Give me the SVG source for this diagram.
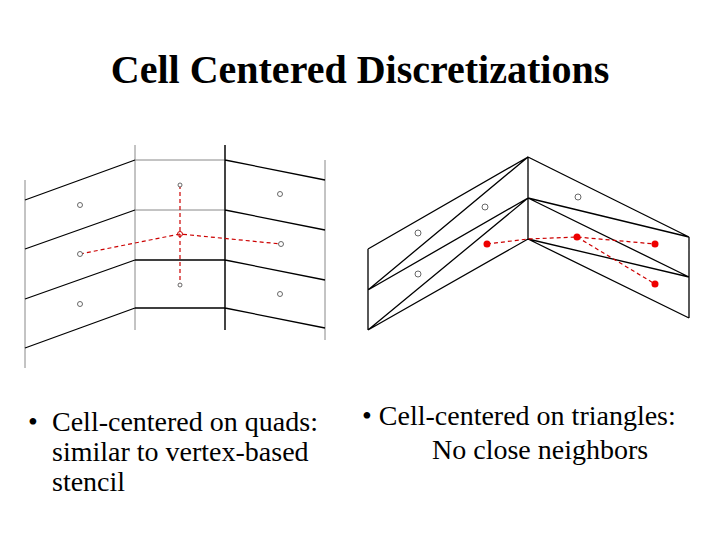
<svg xmlns="http://www.w3.org/2000/svg" width="720" height="540" viewBox="0 0 720 540">
<style>
.k{stroke:#000;stroke-width:1.3;fill:none}
.g{stroke:#888;stroke-width:1;fill:none}
.o{fill:#fff;stroke:#444;stroke-width:0.8}
.r{stroke:#c00;stroke-width:1.2;stroke-dasharray:4 3;fill:none}
.rd{fill:#e00}
text{font-family:'Liberation Serif','Times New Roman',serif;fill:#000}
</style>
<rect width="720" height="540" fill="#fff"/>
<text x="360" y="83" font-size="40" font-weight="bold" text-anchor="middle">Cell Centered Discretizations</text>
<g id="quad-mesh">
<path class="g" d="M25,180V368M135,145V330M225,145V330M325,160V340M135,160H225M135,210H225"/>
<path class="k" d="M25,200L135,160M25,249L135,210M25,299L135,260M25,348L135,308M135,260H225M135,308H225M225,160L325,180M225,210L325,230M225,260L325,280M225,308L325,328M225,145V330"/>
</g>
<g id="quad-stencil">
<path class="r" d="M80,254L180,234L281,244M180,185V285"/>
<circle class="o" cx="80" cy="205" r="2.5"/><circle class="o" cx="80" cy="254" r="2.5"/><circle class="o" cx="80" cy="304" r="2.5"/>
<circle class="o" cx="280" cy="194" r="2.5"/><circle class="o" cx="281" cy="244" r="2.5"/><circle class="o" cx="280" cy="294" r="2.5"/>
<circle class="o" cx="180" cy="185" r="2"/><circle class="o" cx="180" cy="285" r="2"/>
<circle fill="none" stroke="#c00" cx="180" cy="234" r="2.5"/>
</g>
<g id="tri-mesh">
<path class="k" d="M368,249V330M528,157V239M689,237V318M368,249L528,157M368,290L528,198M368,330L528,239M368,290L528,157M368,330L528,198M528,157L689,237M528,198L689,277M528,239L689,318M528,198L689,237M528,239L689,277"/>
</g>
<g id="tri-stencil">
<path class="r" stroke-width="0.8" d="M487,244L528,239L577,237L655,244M577,237L655,284"/>
<circle class="o" cx="418" cy="233" r="3"/><circle class="o" cx="485" cy="207" r="3"/><circle class="o" cx="418" cy="274" r="3"/><circle class="o" cx="578" cy="197" r="3"/>
<circle class="rd" cx="487" cy="244" r="3.5"/><circle class="rd" cx="577" cy="237" r="3.5"/><circle class="rd" cx="655" cy="244" r="3.5"/><circle class="rd" cx="655" cy="284" r="3.5"/>
</g>
<g font-size="28">
<text x="28" y="431">•</text>
<text x="52" y="431">Cell-centered on quads:</text>
<text x="52" y="461">similar to vertex-based</text>
<text x="52" y="491">stencil</text>
<text x="362" y="425">• Cell-centered on triangles:</text>
<text x="432" y="459">No close neighbors</text>
</g>
</svg>
